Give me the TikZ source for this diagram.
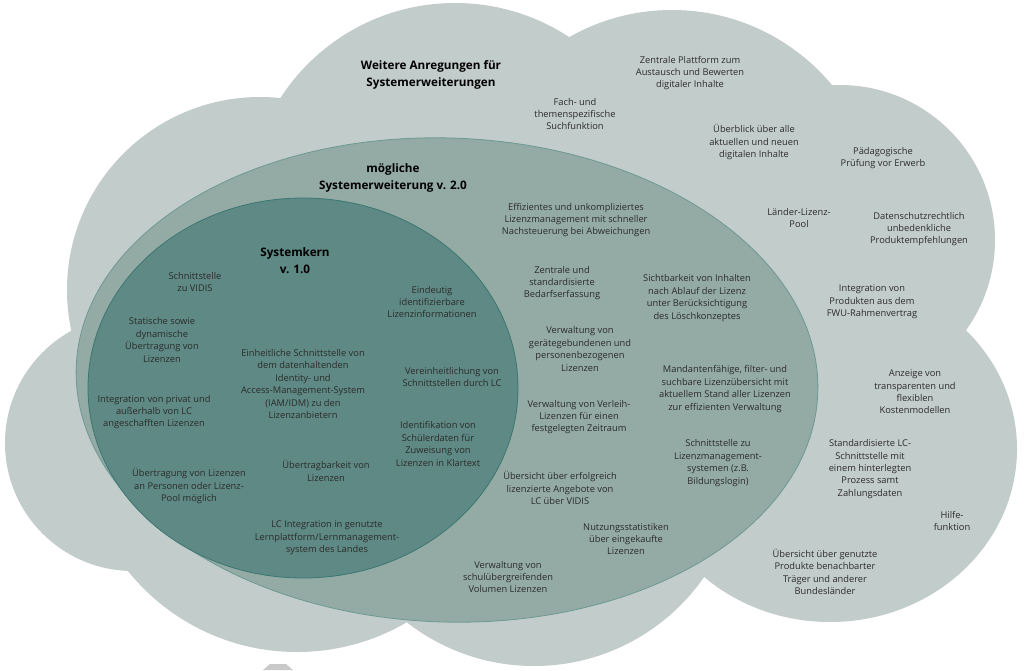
\documentclass[tikz,border=0pt]{standalone}
\usepackage{fontspec}
\setmainfont{Open Sans}
\definecolor{cloudc}{HTML}{C2CCCA}
\definecolor{midc}{HTML}{93AAA5}
\definecolor{midb}{HTML}{6E9993}
\definecolor{corec}{HTML}{5E8984}
\definecolor{coreb}{HTML}{3C7770}
\definecolor{textc}{HTML}{2B2B2B}
\definecolor{wedgec}{HTML}{C9C9C9}
\begin{document}
\begin{tikzpicture}[x=1pt,y=-1pt,
  txt/.style={align=center,text=textc,inner sep=0pt,font=\fontsize{9.3}{12.4}\selectfont},
  ttl/.style={align=center,text=black,inner sep=0pt,font=\fontsize{11.7}{16.8}\selectfont\bfseries},
  lobe/.style={fill=cloudc,draw=none}]
\useasboundingbox (0,0) rectangle (1024,670);
\fill[white] (0,0) rectangle (1024,670);
% cloud
\path[lobe] (260,290) circle [radius=193pt];
\path[lobe] (455,211) circle [radius=208pt];
\path[lobe] (672,218) circle [radius=208pt];
\path[lobe] (840,240) circle [radius=155pt];
\path[lobe] (830,449) ellipse [x radius=187pt, y radius=173pt];
\path[lobe] (534,459) circle [radius=207pt];
\path[lobe] (297,435) circle [radius=217pt];
\path[lobe] (133,443) circle [radius=128pt];
% wedge
\fill[wedgec] (263,670) -- (270,664) -- (286,664) -- (293,670) -- cycle;
% ellipses
\path[fill=midc,draw=midb,line width=0.8pt,shift={(447,380)},rotate=-2] (0,0) ellipse [x radius=371pt, y radius=242pt];
\path[fill=corec,draw=coreb,line width=0.8pt] (303,388) ellipse [x radius=215pt, y radius=190pt];
% cloud texts
\node[ttl] (wa) at (431,75) {Weitere Anregungen für\\Systemerweiterungen};
\node[txt] (c1) at (690,73) {Zentrale Plattform zum\\Austausch und Bewerten\\digitaler Inhalte};
\node[txt] (c2) at (575,114) {Fach- und\\themenspezifische\\Suchfunktion};
\node[txt] (c3) at (754,142) {Überblick über alle\\aktuellen und neuen\\digitalen Inhalte};
\node[txt] (c4) at (883,158) {Pädagogische\\Prüfung vor Erwerb};
\node[txt] (c5) at (799,218) {Länder-Lizenz-\\Pool};
\node[txt] (c6) at (919,229) {Datenschutzrechtlich\\unbedenkliche\\Produktempfehlungen};
\node[txt] (c7) at (872,302) {Integration von\\Produkten aus dem\\FWU-Rahmenvertrag};
\node[txt] (c8) at (915,392) {Anzeige von\\transparenten und\\flexiblen\\Kostenmodellen};
\node[txt] (c9) at (870,469) {Standardisierte LC-\\Schnittstelle mit\\einem hinterlegten\\Prozess samt\\Zahlungsdaten};
\node[txt] (c10) at (952,521) {Hilfe-\\funktion};
\node[txt] (c11) at (825,572) {Übersicht über genutzte\\Produkte benachbarter\\Träger und anderer\\Bundesländer};
% v2 texts
\node[ttl] (v2) at (393,178) {mögliche\\Systemerweiterung v. 2.0};
\node[txt] (m1) at (576,220) {Effizientes und unkompliziertes\\Lizenzmanagement mit schneller\\Nachsteuerung bei Abweichungen};
\node[txt] (m2) at (562,283) {Zentrale und\\standardisierte\\Bedarfserfassung};
\node[txt] (m3) at (697,298) {Sichtbarkeit von Inhalten\\nach Ablauf der Lizenz\\unter Berücksichtigung\\des Löschkonzeptes};
\node[txt] (m4) at (580,349) {Verwaltung von\\gerätegebundenen und\\personenbezogenen\\Lizenzen};
\node[txt] (m5) at (725,389) {Mandantenfähige, filter- und\\suchbare Lizenzübersicht mit\\aktuellem Stand aller Lizenzen\\zur effizienten Verwaltung};
\node[txt] (m6) at (579,417) {Verwaltung von Verleih-\\Lizenzen für einen\\festgelegten Zeitraum};
\node[txt] (m7) at (718,463) {Schnittstelle zu\\Lizenzmanagement-\\systemen (z.B.\\Bildungslogin)};
\node[txt] (m8) at (560,488) {Übersicht über erfolgreich\\lizenzierte Angebote von\\LC über VIDIS};
\node[txt] (m9) at (626,539) {Nutzungsstatistiken\\über eingekaufte\\Lizenzen};
\node[txt] (m10) at (508,577) {Verwaltung von\\schulübergreifenden\\Volumen Lizenzen};
% core texts
\node[ttl] (v1) at (295,261) {Systemkern\\v. 1.0};
\node[txt] (k1) at (195,282) {Schnittstelle\\zu VIDIS};
\node[txt] (k2) at (432,302) {Eindeutig\\identifizierbare\\Lizenzinformationen};
\node[txt] (k3) at (162,340) {Statische sowie\\dynamische\\Übertragung von\\Lizenzen};
\node[txt] (k4) at (303,384) {Einheitliche Schnittstelle von\\dem datenhaltenden\\Identity- und\\Access-Management-System\\(IAM/IDM) zu den\\Lizenzanbietern};
\node[txt] (k5) at (452,377) {Vereinheitlichung von\\Schnittstellen durch LC};
\node[txt] (k6) at (154,412) {Integration von privat und\\außerhalb von LC\\angeschafften Lizenzen};
\node[txt] (k7) at (438,444) {Identifikation von\\Schülerdaten für\\Zuweisung von\\Lizenzen in Klartext};
\node[txt] (k8) at (326,471) {Übertragbarkeit von\\Lizenzen};
\node[txt] (k9) at (189,486) {Übertragung von Lizenzen\\an Personen oder Lizenz-\\Pool möglich};
\node[txt] (k10) at (327,538) {LC Integration in genutzte\\Lernplattform/Lernmanagement-\\system des Landes};
\end{tikzpicture}
\end{document}
